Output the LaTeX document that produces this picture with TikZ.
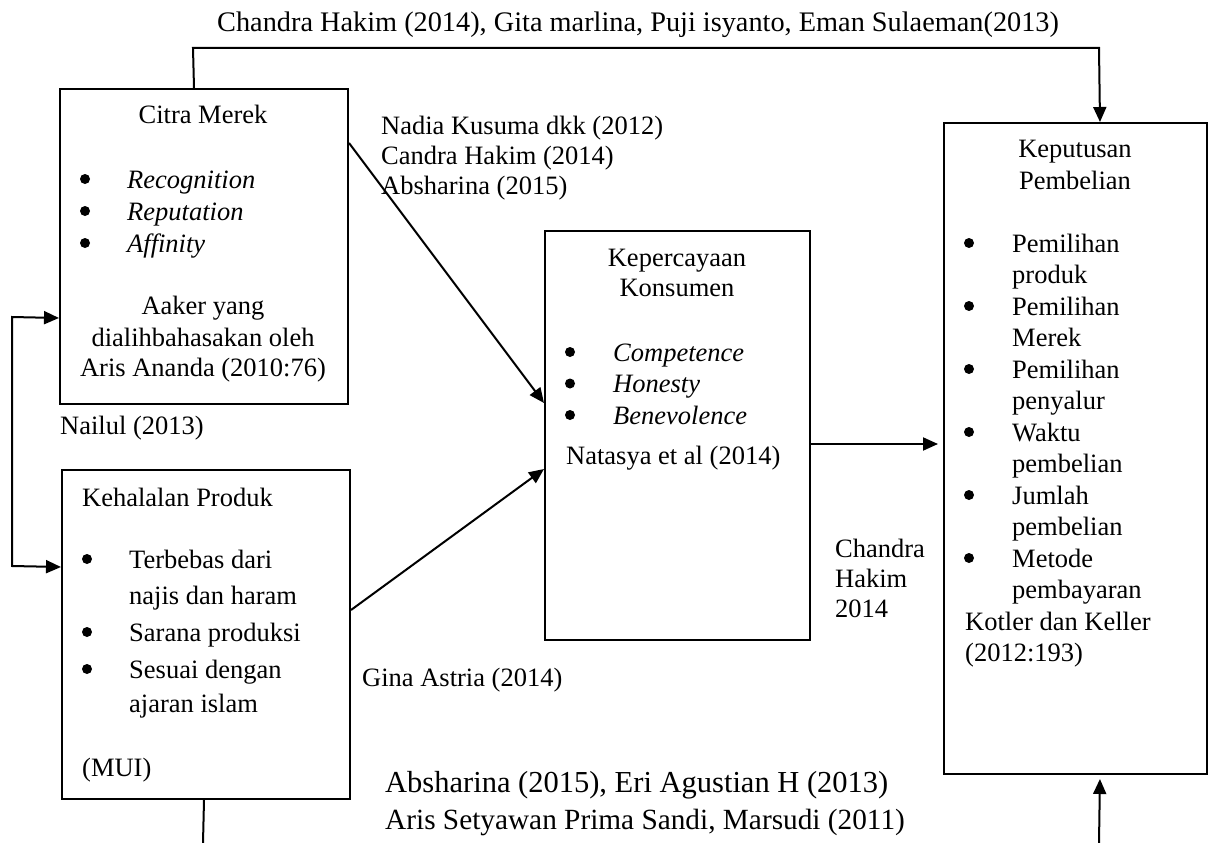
\documentclass[tikz,border=0pt]{standalone}
\usepackage{fontspec}
\setmainfont{Liberation Serif}
\usetikzlibrary{arrows.meta}

\tikzset{
  box/.style={draw, line width=2pt, inner sep=0pt, anchor=north west},
  conn/.style={line width=2pt},
  tip/.tip={Triangle[length=15pt,width=13pt]},
  arr/.style={conn, -tip},
  txt/.style={inner sep=0pt, anchor=base west, font=\fontsize{26.5}{31}\selectfont},
  ctxt/.style={txt, anchor=base},
  dot/.style={circle, fill=black, draw=none, inner sep=0pt, minimum size=10pt, yshift=9pt},
}

\begin{document}
\begin{tikzpicture}[x=1pt,y=-1pt]
    \useasboundingbox (0,0) rectangle (1208,843);

    % kotak variabel
    \node[box, minimum width=288pt, minimum height=315pt] (citra) at (59,88) {};
    \node[box, minimum width=288pt, minimum height=329pt] (kehal) at (61,469) {};
    \node[box, minimum width=265pt, minimum height=409pt] (keper) at (544,230) {};
    \node[box, minimum width=263pt, minimum height=651pt] (keput) at (943,122) {};

    % citra merek
    \node[ctxt] (citraT) at (203,124) {Citra Merek};
    \foreach \w [count=\i] in {Recognition, Reputation, Affinity} {
        \node[dot] (citraD\i) at (85,156+32*\i) {};
        \node[txt] (citraI\i) at (127,156+32*\i) {\itshape \w};
    }
    \node[ctxt] (citraS1) at (203,314) {Aaker yang};
    \node[ctxt] (citraS2) at (203,346) {dialihbahasakan oleh};
    \node[ctxt] (citraS3) at (203,376) {Aris Ananda (2010:76)};

    % kehalalan produk
    \node[txt] (kehalT) at (82,506) {Kehalalan Produk};
    \node[dot] (kehalD1) at (87,568) {};
    \node[txt] (kehalI1) at (129,568) {Terbebas dari};
    \node[txt] (kehalI2) at (129,604) {najis dan haram};
    \node[dot] (kehalD2) at (87,641) {};
    \node[txt] (kehalI3) at (129,641) {Sarana produksi};
    \node[dot] (kehalD3) at (87,678) {};
    \node[txt] (kehalI4) at (129,678) {Sesuai dengan};
    \node[txt] (kehalI5) at (129,712) {ajaran islam};
    \node[txt] (kehalS) at (82,776) {(MUI)};

    % kepercayaan konsumen
    \node[ctxt] (keperT1) at (677,266) {Kepercayaan};
    \node[ctxt] (keperT2) at (677,296) {Konsumen};
    \foreach \w [count=\i] in {Competence, Honesty, Benevolence} {
        \node[dot] (keperD\i) at (570,329.5+31.5*\i) {};
        \node[txt] (keperI\i) at (613,329.5+31.5*\i) {\itshape \w};
    }
    \node[txt] (keperS) at (566,464) {Natasya et al (2014)};

    % keputusan pembelian
    \node[ctxt] (keputT1) at (1075,157) {Keputusan};
    \node[ctxt] (keputT2) at (1075,189) {Pembelian};
    \foreach \w [count=\i] in {Pemilihan, produk, Pemilihan, Merek, Pemilihan, penyalur,
                               Waktu, pembelian, Jumlah, pembelian, Metode, pembayaran} {
        \node[txt] (keputI\i) at (1012,220.5+31.5*\i) {\w};
        \ifodd\i \node[dot] (keputD\i) at (969,220.5+31.5*\i) {}; \fi
    }
    \node[txt] (keputS1) at (965,630) {Kotler dan Keller};
    \node[txt] (keputS2) at (965,661.5) {(2012:193)};

    % label hubungan
    \node[txt, font=\fontsize{28.3}{33}\selectfont] (lblTop) at (217,32) {Chandra Hakim (2014), Gita marlina, Puji isyanto, Eman Sulaeman(2013)};
    \node[txt] (lblNadia1) at (381,134) {Nadia Kusuma dkk (2012)};
    \node[txt] (lblNadia2) at (381,164) {Candra Hakim (2014)};
    \node[txt] (lblNadia3) at (381,194) {Absharina (2015)};
    \node[txt] (lblNailul) at (60,434) {Nailul (2013)};
    \node[txt] (lblGina) at (362,686) {Gina Astria (2014)};
    \node[txt] (lblChandra1) at (835,557) {Chandra};
    \node[txt] (lblChandra2) at (835,587) {Hakim};
    \node[txt] (lblChandra3) at (835,617) {2014};
    \node[txt, font=\fontsize{30.5}{35}\selectfont] (lblBot1) at (385,792) {Absharina (2015), Eri Agustian H (2013)};
    \node[txt, font=\fontsize{29.3}{34}\selectfont] (lblBot2) at (385,829) {Aris Setyawan Prima Sandi, Marsudi (2011)};

    % titik bantu garis
    \coordinate (topL) at (193,48);
    \coordinate (topR) at (1099,48);
    \coordinate (loopT) at (12,317);
    \coordinate (loopB) at (12,566);
    \coordinate (botL) at (203,843);
    \coordinate (botR) at (1099,843);

    % panah
    \draw[arr] ([xshift=-10pt]citra.north) -- (topL) -- (topR) -- ([xshift=24.5pt]keput.north);
    \draw[arr] ([yshift=-55pt]citra.north east) -- ([yshift=-173pt]keper.north west);
    \draw[arr] ([yshift=-141pt]kehal.north east) -- ([yshift=-239pt]keper.north west);
    \draw[arr, shorten >=5pt] ([yshift=-214pt]keper.north east) -- ([yshift=-322pt]keput.north west);
    \draw[conn, tip-tip] ([yshift=-71.5pt]citra.west) -- (loopT) -- (loopB) -- ([yshift=67.5pt]kehal.west);
    \draw[conn] ([xshift=-2pt]kehal.south) -- (botL);
    \draw[arr, shorten >=4pt] (botR) -- ([xshift=24.5pt]keput.south);
\end{tikzpicture}
\end{document}
